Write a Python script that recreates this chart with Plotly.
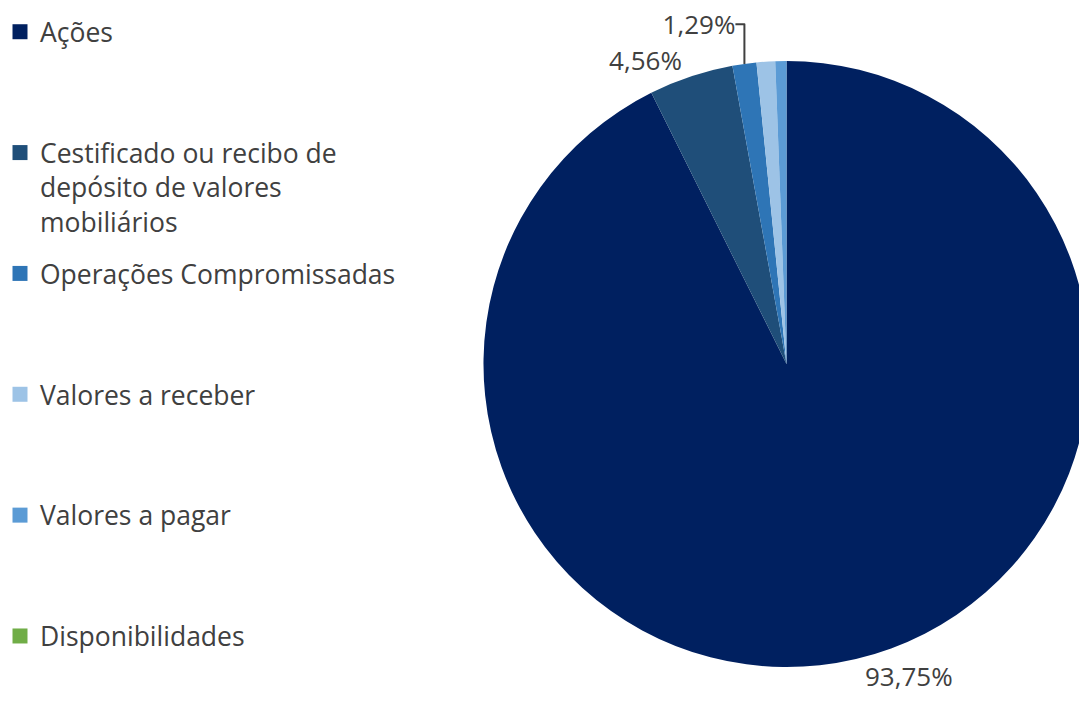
import plotly.graph_objects as go

# categories and values
categorias = ['Ações',
              'Cestificado ou recibo de<br>depósito de valores<br>mobiliários',
              'Operações Compromissadas',
              'Valores a receber',
              'Valores a pagar',
              'Disponibilidades']
valores = [93.75, 4.56, 1.29, 1.00, 0.60, 0.0]
rotulos = ['93,75%', '4,56%', '1,29%', '', '', '']
cores = ['#002060', '#1F4E79', '#2E75B6', '#9DC3E6', '#5B9BD5', '#70AD47']

FONT = 'Open Sans'
TXT = '#404040'


# pad legend entries to three lines so the entries are evenly spaced
def pad_label(lbl, n=3):
    lines = lbl.count('<br>') + 1
    return lbl + '<br> ' * (n - lines)


text_pos = ['outside' if r else 'none' for r in rotulos]

fig = go.Figure()
fig.add_trace(go.Pie(
    labels=categorias,
    values=valores,
    text=rotulos,
    texttemplate='%{text}',
    textposition=text_pos,
    sort=False,
    direction='clockwise',
    rotation=0,
    marker=dict(colors=cores, line=dict(width=0)),
    outsidetextfont=dict(size=26, color=TXT, family=FONT),
    domain=dict(x=[0.437, 0.9954], y=[0.077, 0.9258]),
    showlegend=False,
    hoverinfo='label+percent',
))

# legend-only entries (one group each so the spacing can be set)
for i, (cat, cor) in enumerate(zip(categorias, cores)):
    last = i == len(categorias) - 1
    fig.add_trace(go.Scatter(
        x=[None], y=[None],
        mode='markers',
        name=cat if last else pad_label(cat),
        legendgroup=str(i),
        marker=dict(symbol='square', size=15, color=cor),
        hoverinfo='skip',
    ))

fig.update_layout(
    width=1087,
    height=714,
    margin=dict(l=0, r=0, t=0, b=0, autoexpand=False),
    paper_bgcolor='white',
    plot_bgcolor='white',
    font=dict(family=FONT, size=26, color=TXT),
    xaxis=dict(visible=False),
    yaxis=dict(visible=False),
    showlegend=True,
    legend=dict(
        x=0, y=1, xanchor='left', yanchor='top',
        valign='top',
        indentation=-8,
        tracegroupgap=14.5,
        font=dict(size=26.5, color=TXT, family=FONT),
        bgcolor='rgba(0,0,0,0)',
    ),
)

fig.write_html("out.html")
